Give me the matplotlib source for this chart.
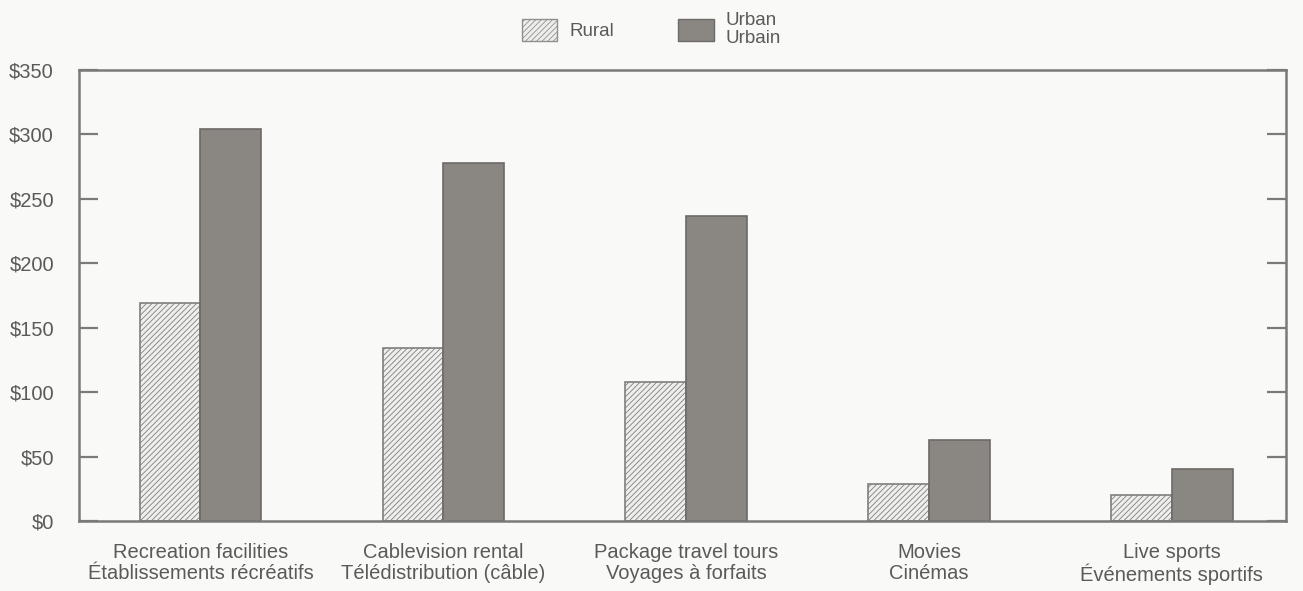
import numpy as np
import matplotlib.pyplot as plt
from matplotlib.patches import Patch

plt.rcParams['font.family'] = ['Liberation Sans', 'DejaVu Sans']
plt.rcParams['hatch.color'] = '#a8a8a8'
plt.rcParams['hatch.linewidth'] = 0.6

# data
categories = ['Recreation facilities\nÉtablissements récréatifs',
              'Cablevision rental\nTélédistribution (câble)',
              'Package travel tours\nVoyages à forfaits',
              'Movies\nCinémas',
              'Live sports\nÉvénements sportifs']
rural = [169, 134, 108, 29, 20]
urban = [304, 278, 237, 63, 40]
yticks = [0, 50, 100, 150, 200, 250, 300, 350]
ytick_labels = ['$' + str(v) for v in yticks]

text_col = '#5a5a5a'
axis_col = '#7a7a7a'
bg = '#f9f9f7'

fig = plt.figure(figsize=(13.03, 5.91), dpi=100, facecolor=bg)
ax = fig.add_axes([0.0606, 0.1184, 0.9264, 0.7632], facecolor=bg)

x = np.arange(len(categories))
w = 0.25
ax.bar(x - w / 2, rural, w, color='#eeeeec', edgecolor='#7f7f7f',
       linewidth=1.2, hatch='//////')
ax.bar(x + w / 2, urban, w, color='#8a8682', edgecolor='#6e6a67',
       linewidth=1.2)

ax.set_xlim(-0.5, 4.47)
ax.set_ylim(0, 350)
ax.set_yticks(yticks)
ax.set_yticklabels(ytick_labels)
ax.set_xticks(x)
ax.set_xticklabels(categories, linespacing=1.1)

for s in ax.spines.values():
    s.set_color(axis_col)
    s.set_linewidth(1.8)

ax.tick_params(axis='y', direction='in', length=14, width=1.6, color=axis_col,
               labelcolor=text_col, labelsize=14.5, right=True, pad=18)
ax.tick_params(axis='x', length=0, labelcolor=text_col, labelsize=14.5, pad=16)

handles = [Patch(facecolor='#eeeeec', edgecolor='#8f8f8f', hatch='//////'),
           Patch(facecolor='#8a8682', edgecolor='#6e6a67')]
leg = fig.legend(handles, ['Rural', 'Urban\nUrbain'], ncol=2, frameon=False,
                 loc='center', bbox_to_anchor=(0.5, 0.95), fontsize=13.5,
                 handlelength=1.9, handleheight=1.4, handletextpad=0.65,
                 columnspacing=3.4, labelspacing=0.2)
for t in leg.get_texts():
    t.set_color(text_col)
    t.set_linespacing(1.05)

fig.savefig('out.png', dpi=100, facecolor=bg)
